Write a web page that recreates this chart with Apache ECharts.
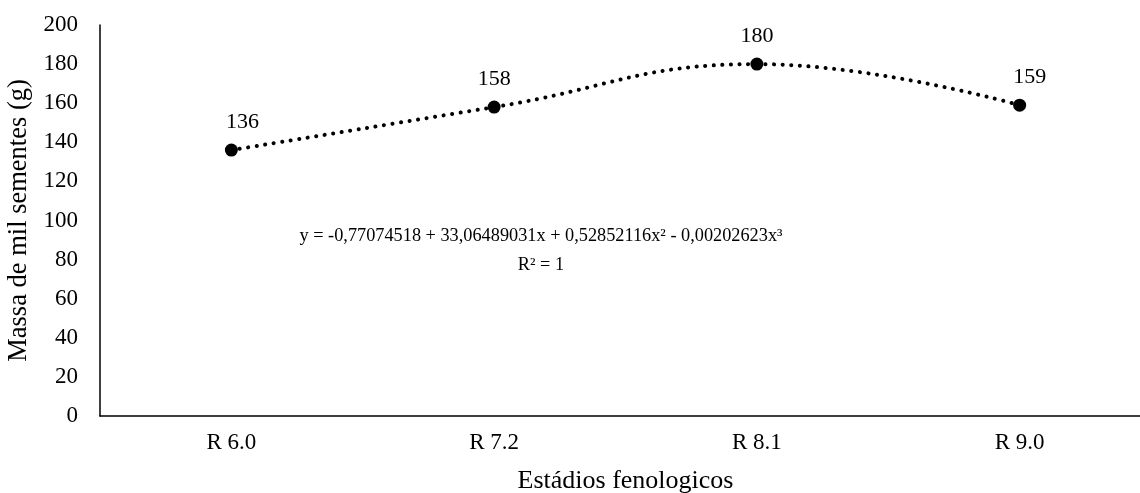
<!DOCTYPE html>
<html><head><meta charset="utf-8">
<script src="https://cdn.jsdelivr.net/npm/echarts@6/dist/echarts.min.js"></script>
<style>html,body{margin:0;padding:0;background:#fff}#c{width:1140px;height:493px}</style>
</head><body><div id="c"></div>
<script>
const categories = ['R 6.0', 'R 7.2', 'R 8.1', 'R 9.0'];
const values = [136, 158, 180, 159];
const yTicks = [0, 200, 20];
const equation = 'y = -0,77074518 + 33,06489031x + 0,52852116x² - 0,00202623x³';
const r2 = 'R² = 1';
const labelShiftX = [11, 0, 0, 10];
const FONT = '"Liberation Serif", "Times New Roman", serif';
const chart = echarts.init(document.getElementById('c'));
chart.setOption({
  animation: false,
  textStyle: { fontFamily: FONT },
  grid: { left: 100, width: 1051, top: 25, bottom: 77, containLabel: false, outerBoundsMode: 'none' },
  xAxis: {
    type: 'category', data: categories, boundaryGap: true,
    axisLine: { lineStyle: { color: '#000', width: 1.5 } },
    axisTick: { show: false },
    axisLabel: { color: '#000', fontSize: 23, fontFamily: FONT, margin: 15 },
    name: 'Estádios fenologicos', nameLocation: 'middle', nameGap: 52,
    nameTextStyle: { color: '#000', fontSize: 26, fontFamily: FONT }
  },
  yAxis: {
    type: 'value', min: yTicks[0], max: yTicks[1], interval: yTicks[2],
    splitLine: { show: false },
    axisLine: { show: true, lineStyle: { color: '#000', width: 1.5 } },
    axisTick: { show: false },
    axisLabel: { color: '#000', fontSize: 23, fontFamily: FONT, margin: 22 },
    name: 'Massa de mil sementes (g)', nameLocation: 'middle', nameGap: 65,
    nameTextStyle: { color: '#000', fontSize: 26.5, fontFamily: FONT }
  },
  series: [{
    type: 'line',
    data: values.map((v, i) => ({ value: v, label: { offset: [labelShiftX[i], 0] } })),
    smooth: 0.45,
    symbol: 'circle', symbolSize: 13,
    itemStyle: { color: '#000' },
    lineStyle: { color: '#000', width: 4, type: [0.1, 8.5], cap: 'round' },
    label: { show: true, position: 'top', distance: 10, color: '#000', fontSize: 22, fontFamily: FONT }
  }],
  graphic: [{
    type: 'text', x: 541, y: 227,
    style: { text: equation, align: 'center', verticalAlign: 'top', fill: '#000', font: '18.3px ' + FONT }
  }, {
    type: 'text', x: 541, y: 256,
    style: { text: r2, align: 'center', verticalAlign: 'top', fill: '#000', font: '18.3px ' + FONT }
  }]
});
</script></body></html>
